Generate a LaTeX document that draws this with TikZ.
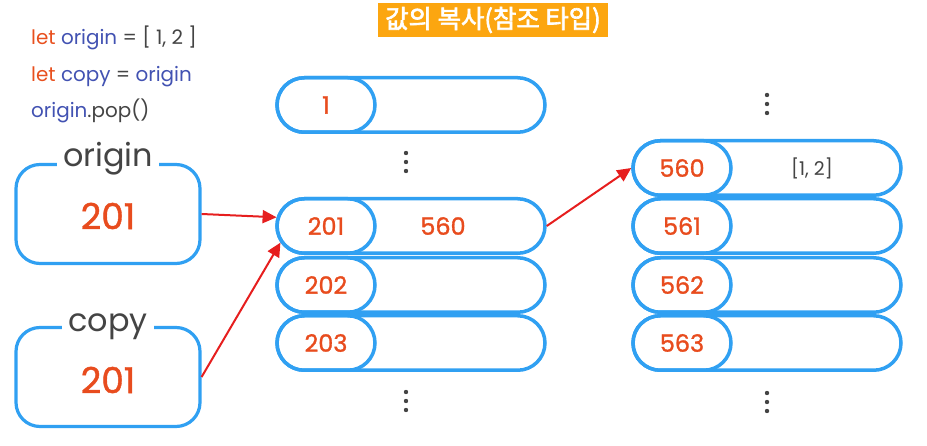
\documentclass[tikz,border=0pt]{standalone}
\usepackage{fontspec}
\setmainfont{Poppins}
\newfontfamily\numfont{Poppins}[FakeBold=1.2]
\newfontfamily\kofont{Noto Sans CJK KR}[FakeBold=2.5]
\usetikzlibrary{shapes.misc,arrows.meta,positioning}
\definecolor{memblue}{RGB}{48,160,242}
\definecolor{numred}{RGB}{232,76,30}
\definecolor{letred}{RGB}{232,80,30}
\definecolor{codeblue}{RGB}{66,82,178}
\definecolor{txtgray}{RGB}{68,68,68}
\definecolor{ptrred}{RGB}{230,30,30}
\definecolor{titlebg}{RGB}{252,166,16}
\begin{document}
\begin{tikzpicture}[x=1bp,y=-1bp,
  varbox/.style={draw=memblue, line width=3.2bp, rounded corners=24bp, minimum width=184bp, minimum height=99bp},
  varname/.style={fill=white, inner xsep=6bp, inner ysep=2bp, anchor=base, text=txtgray, font=\fontsize{32}{32}\selectfont},
  varval/.style={text=numred, font=\numfont\fontsize{36}{36}\selectfont},
  cell/.style={rounded rectangle, draw=memblue, line width=3.5bp, minimum width=268bp, minimum height=54.5bp, inner sep=0pt},
  addr/.style={rounded rectangle, draw=memblue, line width=3.5bp, minimum width=98bp, minimum height=54.5bp, inner sep=0pt, anchor=west, text=numred, font=\numfont\fontsize{24}{24}\selectfont},
  ptr/.style={draw=ptrred, line width=2bp, -{Triangle[length=14bp,width=13bp]}},
  code/.style={anchor=base west, inner sep=0pt, text=txtgray, font=\fontsize{20}{20}\selectfont}
]
\useasboundingbox (0,0) rectangle (927,446);
% title
\node[fill=titlebg, text=white, font=\kofont\fontsize{25.5}{25.5}\selectfont, minimum width=230bp, minimum height=34bp, inner sep=0pt] (title) at (493,20) {값의 복사(참조 타입)};
% code
\node[code] (line1) at (31,45) {\textcolor{letred}{let} \textcolor{codeblue}{origin} = [ 1, 2 ]};
\node[code] (line2) at (31,82) {\textcolor{letred}{let} \textcolor{codeblue}{copy} = \textcolor{codeblue}{origin}};
\node[code] (line3) at (31,118) {\textcolor{codeblue}{origin}.pop()};
% variables
\node[varbox] (origin) at (108,214) {};
\node[varname] (originname) at (108,167) {origin};
\node[varval] (originval) at (108,216) {201};
\node[varbox] (copy) at (108,377) {};
\node[varname] (copyname) at (108,332) {copy};
\node[varval] (copyval) at (108,380) {201};
% memory
\node[cell] (m1) at (411,105) {};
\node[addr] (k1) at (m1.west) {1};
\foreach \a/\y in {201/226,202/285,203/343}{
  \node[cell] (m\a) at (411,\y) {};
  \node[addr] (k\a) at (m\a.west) {\a};
}
\foreach \a/\y in {560/168,561/226,562/285,563/343}{
  \node[cell] (r\a) at (767,\y) {};
  \node[addr] (k\a) at (r\a.west) {\a};
}
\node[text=numred, font=\numfont\fontsize{24}{24}\selectfont] (v201) at (443,226) {560};
\node[text=txtgray, font=\fontsize{19}{19}\selectfont] (v560) at (812,168) {[1, 2]};
\foreach \x/\y in {406/162,406/401,767/104,767/402}{
  \foreach \d in {-9,0,9}
    \fill[txtgray] (\x,\y+\d) circle[radius=2.2bp];
}
% pointers
\draw[ptr] (origin.east) -- (k201.170);
\draw[ptr] (copy.east) -- (k201.200);
\draw[ptr] (m201.east) -- (k560.west);
\end{tikzpicture}
\end{document}
